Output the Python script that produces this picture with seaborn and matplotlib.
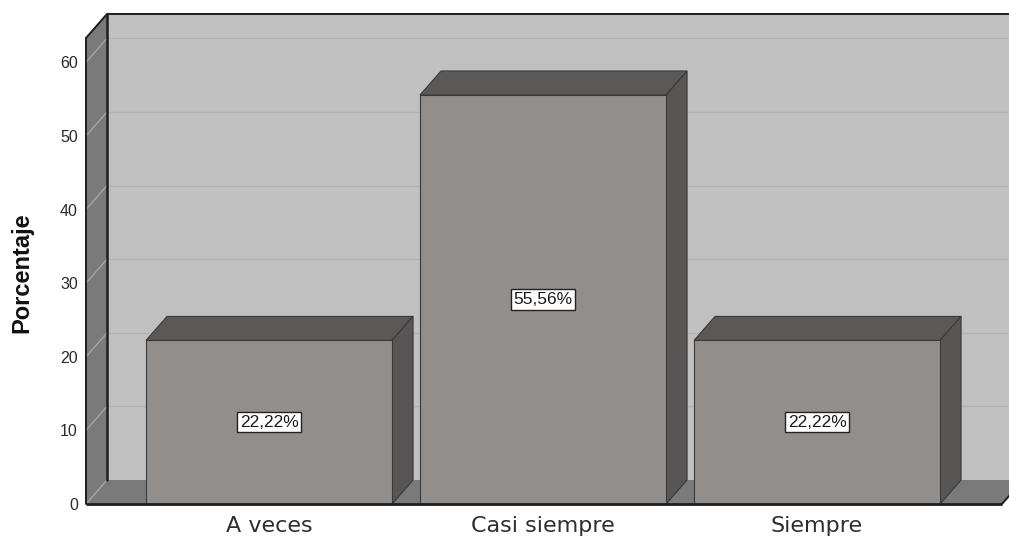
import matplotlib
matplotlib.use("Agg")
import matplotlib.pyplot as plt
from matplotlib.patches import Polygon
import seaborn as sns
import pandas as pd

# ---- data ----
categories = ["A veces", "Casi siempre", "Siempre"]
percentages = [22.22, 55.56, 22.22]
y_ticks = [0, 10, 20, 30, 40, 50, 60]
y_label = "Porcentaje"

df = pd.DataFrame({"cat": categories, "pct": percentages})

# ---- style ----
sns.set_style("white")
plt.rcParams["font.family"] = ["Liberation Sans", "DejaVu Sans"]

W, H = 1009, 538
fig = plt.figure(figsize=(W / 100, H / 100), dpi=100)
fig.patch.set_facecolor("white")
ax_left, ax_bottom, ax_w, ax_h = 86, 34, 916, 466
ax = fig.add_axes([ax_left / W, ax_bottom / H, ax_w / W, ax_h / H])
ax.set_facecolor("none")

FRONT = "#928e8c"
TOP = "#5b5957"
SIDE = "#585654"
BACKWALL = "#c0c0c0"
SIDEWALL = "#7a7a7a"
FLOOR = "#7a7a7a"
EDGE = "#3a3a3a"

sns.barplot(data=df, x="cat", y="pct", ax=ax, color=FRONT, saturation=1,
            width=0.898, edgecolor=EDGE, linewidth=0.8, errorbar=None)

XL = (-0.668, 2.675)
YL = (0, 63.3)
ax.set_xlim(*XL)
ax.set_ylim(*YL)

# depth offset (pixels -> data)
DX_PX, DY_PX = 21, 24
dx = DX_PX * (XL[1] - XL[0]) / ax_w
dy = DY_PX * (YL[1] - YL[0]) / ax_h

x0, x1 = XL
ytop = YL[1]

def poly(pts, fc, ec="none", lw=0, z=0):
    p = Polygon(pts, closed=True, facecolor=fc, edgecolor=ec, linewidth=lw,
                zorder=z, clip_on=False, joinstyle="miter")
    ax.add_patch(p)
    return p

# back wall
poly([(x0 + dx, dy), (x1 + dx, dy), (x1 + dx, ytop + dy), (x0 + dx, ytop + dy)],
     BACKWALL, z=0.1)
# floor
poly([(x0, 0), (x1, 0), (x1 + dx, dy), (x0 + dx, dy)], FLOOR, z=0.3)
# left wall
poly([(x0, 0), (x0 + dx, dy), (x0 + dx, ytop + dy), (x0, ytop)], SIDEWALL, z=0.3)

# gridlines on back wall and left wall
for v in y_ticks:
    if v > 0:
        ax.plot([x0 + dx, x1 + dx], [v + dy, v + dy], color="#b2b2b2",
                lw=1.0, zorder=0.2, clip_on=False, solid_capstyle="butt")
    ax.plot([x0, x0 + dx], [v, v + dy], color="#a4a4a4", lw=1.0,
            zorder=0.4, clip_on=False, solid_capstyle="butt")

# wall outlines
ax.plot([x0 + dx, x0 + dx], [dy, ytop + dy], color="#1e1e1e", lw=1.8,
        zorder=0.5, clip_on=False)
ax.plot([x0, x0 + dx, x1 + dx], [ytop, ytop + dy, ytop + dy], color="#1e1e1e",
        lw=1.4, zorder=0.5, clip_on=False)
ax.plot([x0, x0], [0, ytop], color="#1e1e1e", lw=1.4, zorder=0.5, clip_on=False)
ax.plot([x1, x1 + dx], [0, dy], color="#1e1e1e", lw=1.4, zorder=0.5, clip_on=False)
ax.plot([x0, x1], [0, 0], color="#1e1e1e", lw=2.0, zorder=5, clip_on=False,
        solid_capstyle="butt")

# 3D faces of bars
for bar, val in zip(ax.patches[:len(categories)], percentages):
    bx0 = bar.get_x()
    bx1 = bx0 + bar.get_width()
    h = bar.get_height()
    bar.set_zorder(3)
    poly([(bx0, h), (bx0 + dx, h + dy), (bx1 + dx, h + dy), (bx1, h)],
         TOP, ec=EDGE, lw=0.8, z=2.5)
    poly([(bx1, 0), (bx1 + dx, dy), (bx1 + dx, h + dy), (bx1, h)],
         SIDE, ec=EDGE, lw=0.8, z=2.5)
    lbl = f"{val:.2f}".replace(".", ",") + "%"
    ax.text((bx0 + bx1) / 2, h / 2, lbl, ha="center", va="center",
            fontsize=12.5, color="#1a1a1a", zorder=6,
            bbox=dict(boxstyle="square,pad=0.16", facecolor="white",
                      edgecolor="#222222", linewidth=1.0))

for s in ax.spines.values():
    s.set_visible(False)

ax.set_yticks(y_ticks)
ax.set_yticklabels([str(t) for t in y_ticks])
ax.tick_params(axis="y", length=0, pad=5.8, labelsize=11.5, labelcolor="#2a2a2a")
ax.tick_params(axis="x", length=0, pad=9, labelcolor="#2e2e2e")
for t in ax.get_xticklabels():
    t.set_fontfamily(["DejaVu Sans"])
    t.set_fontsize(16)
ax.set_xlabel("")
ax.set_ylabel(y_label, fontsize=17, fontweight="bold", color="#111111")
ax.yaxis.set_label_coords((22 - ax_left) / ax_w, (504 - 273) / ax_h)
ax.yaxis.label.set_verticalalignment("center")

fig.savefig("out.png", dpi=100, facecolor="white")
